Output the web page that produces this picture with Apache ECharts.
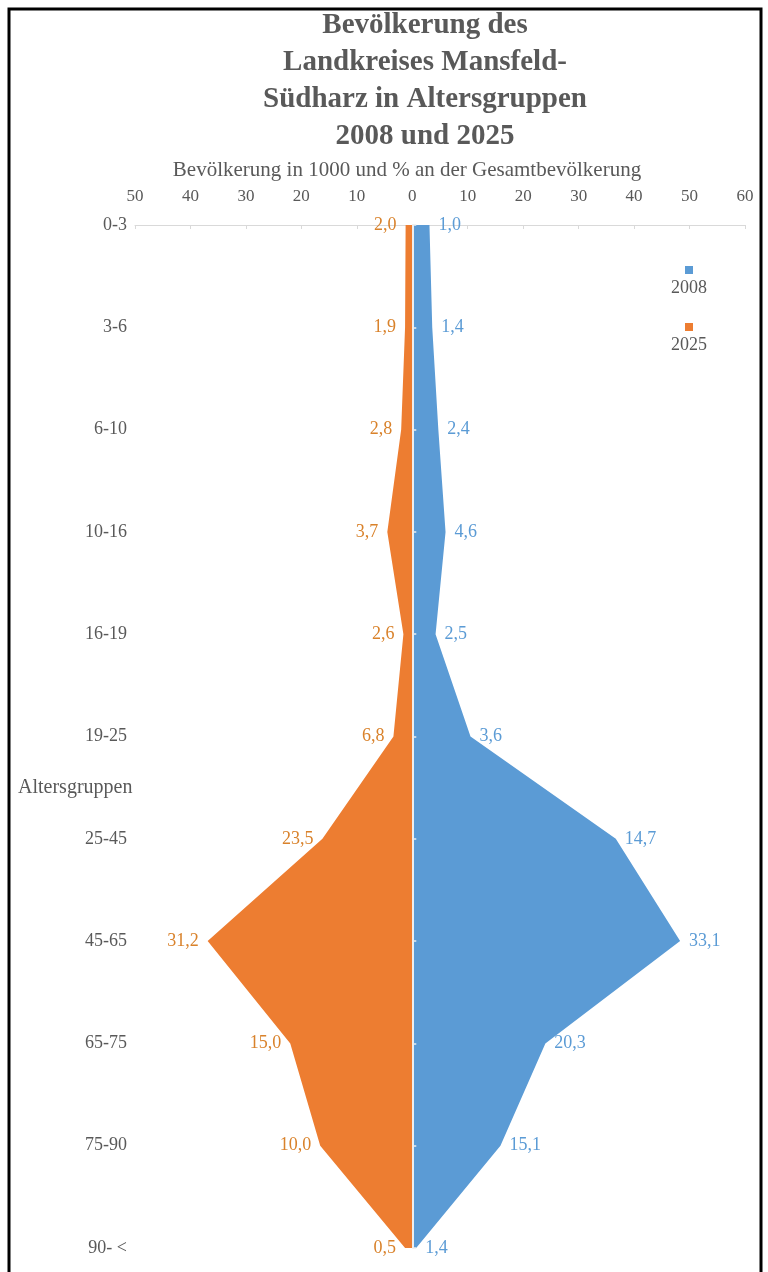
<!DOCTYPE html>
<html>
<head>
<meta charset="utf-8">
<script src="https://cdn.jsdelivr.net/npm/echarts@6/dist/echarts.min.js"></script>
<style>
  html, body { margin: 0; padding: 0; background: #fff; }
  #chart { width: 768px; height: 1272px; }
</style>
</head>
<body>
<div id="chart"></div>
<script>
// Altersgruppen (von oben nach unten)
const ageGroups = ['0-3', '3-6', '6-10', '10-16', '16-19', '19-25', '25-45', '45-65', '65-75', '75-90', '90- <'];
// Bevölkerung in 1000 (Fläche), 2025 nach links (negativ)
const pop2008 = [3.1, 3.6, 4.7, 6.0, 4.2, 10.5, 36.7, 48.3, 24.0, 15.9, 0.7];
const pop2025 = [-1.2, -1.3, -2.0, -4.5, -1.6, -3.4, -16.2, -36.9, -22.0, -16.6, -1.3];
// % an der Gesamtbevölkerung (Beschriftungen)
const pct2008 = ['1,0', '1,4', '2,4', '4,6', '2,5', '3,6', '14,7', '33,1', '20,3', '15,1', '1,4'];
const pct2025 = ['2,0', '1,9', '2,8', '3,7', '2,6', '6,8', '23,5', '31,2', '15,0', '10,0', '0,5'];

const serif = '"Liberation Serif", "DejaVu Serif", serif';
const textGray = '#595959';

const chart = echarts.init(document.getElementById('chart'));
chart.setOption({
  animation: false,
  color: ['#5b9bd5', '#ed7d31'],
  graphic: [{
    type: 'rect',
    shape: { x: 9, y: 9, width: 752, height: 1300 },
    style: { fill: 'none', stroke: '#000', lineWidth: 3 },
  }],
  title: [{
    text: 'Bevölkerung des\nLandkreises Mansfeld-\nSüdharz in Altersgruppen\n2008 und 2025',
    left: 420,
    top: 2,
    textAlign: 'center',
    textStyle: {
      fontFamily: serif, fontSize: 29, fontWeight: 'bold', color: textGray, lineHeight: 37,
    },
  }, {
    text: 'Bevölkerung in 1000 und % an der Gesamtbevölkerung',
    left: 402,
    top: 155,
    textAlign: 'center',
    textStyle: {
      fontFamily: serif, fontSize: 21, fontWeight: 'normal', color: textGray,
    },
  }, {
    // Achsentitel der Altersgruppen
    text: 'Altersgruppen',
    left: 13,
    top: 773,
    textStyle: {
      fontFamily: serif, fontSize: 20, fontWeight: 'normal', color: textGray,
    },
  }],
  legend: {
    orient: 'vertical',
    left: 661,
    top: 259,
    icon: 'none',
    itemWidth: 0,
    itemGap: 24,
    data: ['2008', '2025'],
    formatter: (name) => (name === '2008' ? '{b|}\n{t|2008}' : '{o|}\n{t|2025}'),
    textStyle: {
      rich: {
        b: { width: 8, height: 8, backgroundColor: '#5b9bd5', align: 'center' },
        o: { width: 8, height: 8, backgroundColor: '#ed7d31', align: 'center' },
        t: {
          fontFamily: serif, fontSize: 18, color: textGray, align: 'center', lineHeight: 28,
        },
      },
    },
  },
  grid: {
    left: 135, right: 23, top: 225, bottom: 24, outerBoundsMode: 'none',
  },
  xAxis: {
    type: 'value',
    position: 'top',
    min: -50,
    max: 60,
    interval: 10,
    splitLine: { show: false },
    axisLine: { show: true, lineStyle: { color: '#d9d9d9', width: 1 } },
    axisTick: { show: true, inside: true, length: 4, lineStyle: { color: '#d9d9d9' } },
    axisLabel: {
      margin: 20,
      fontFamily: serif,
      fontSize: 17,
      color: textGray,
      formatter: (v) => Math.abs(v),
    },
  },
  yAxis: [{
    type: 'category',
    data: ageGroups,
    inverse: true,
    boundaryGap: false,
    position: 'left',
    axisLine: { show: false, onZero: false },
    axisTick: { show: false },
    axisLabel: {
      margin: 8, fontFamily: serif, fontSize: 18, color: textGray,
    },
  }, {
    type: 'category',
    data: ageGroups,
    inverse: true,
    boundaryGap: false,
    z: 10,
    axisLine: { show: true, onZero: true, lineStyle: { color: '#eeeeee', width: 2 } },
    axisTick: { show: true, length: 4, lineStyle: { color: '#eeeeee', width: 1.5 } },
    axisLabel: { show: false },
  }],
  series: [{
    name: '2008',
    type: 'line',
    data: pop2008,
    symbol: 'circle',
    symbolSize: 0,
    showSymbol: true,
    lineStyle: { width: 0 },
    areaStyle: { opacity: 1, color: '#5b9bd5' },
    label: {
      show: true,
      position: 'right',
      distance: 9,
      fontFamily: serif,
      fontSize: 18,
      color: '#5b9bd5',
      formatter: (p) => pct2008[p.dataIndex],
    },
  }, {
    name: '2025',
    type: 'line',
    data: pop2025,
    symbol: 'circle',
    symbolSize: 0,
    showSymbol: true,
    lineStyle: { width: 0 },
    areaStyle: { opacity: 1, color: '#ed7d31' },
    label: {
      show: true,
      position: 'left',
      distance: 9,
      fontFamily: serif,
      fontSize: 18,
      color: '#d9822b',
      formatter: (p) => pct2025[p.dataIndex],
    },
  }],
});
</script>
</body>
</html>
